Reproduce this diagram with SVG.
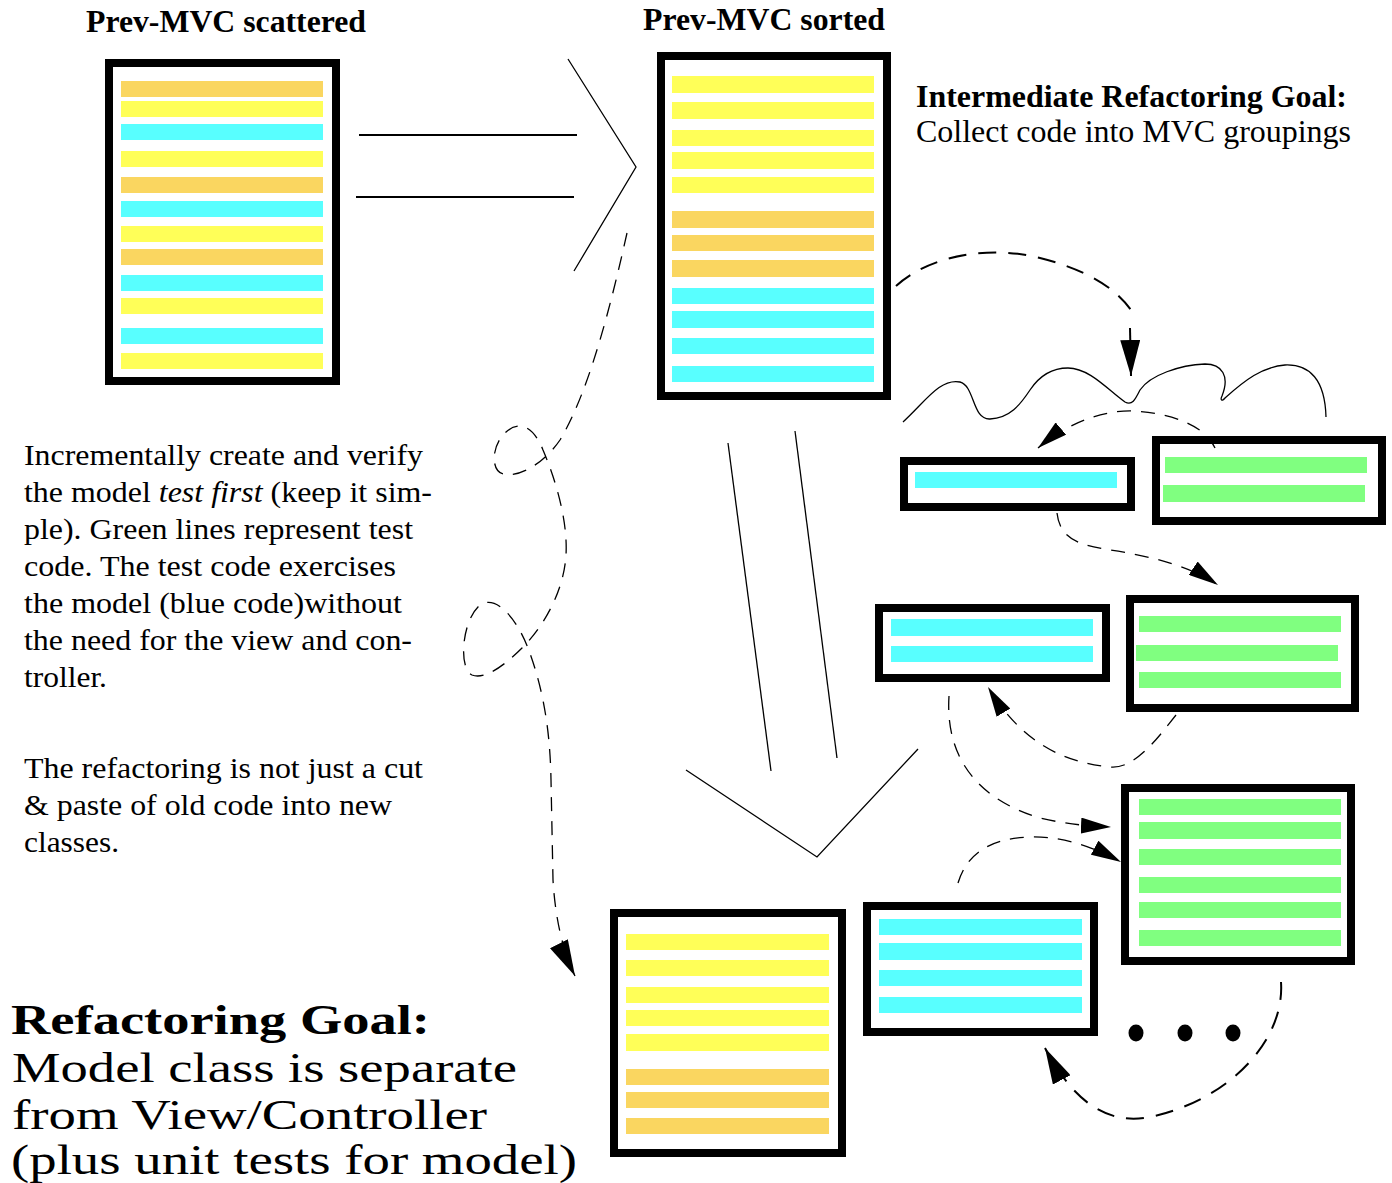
<svg xmlns="http://www.w3.org/2000/svg" width="1392" height="1183" viewBox="0 0 1392 1183">
<style>
.box{fill:#fff;stroke:#000;stroke-width:8}
.y{fill:#FFFF58}.o{fill:#FAD660}.c{fill:#58FFFF}.g{fill:#80FF80}
.t{font-family:'Liberation Serif',Tinos,'Times New Roman',Times,'Nimbus Roman','FreeSerif',serif;fill:#000}
.b{font-weight:bold}
.thin{fill:none;stroke:#000;stroke-width:1.3}
.dash{fill:none;stroke:#000;stroke-width:2;stroke-dasharray:18 12}
.dash2{fill:none;stroke:#000;stroke-width:1.3;stroke-dasharray:14 10}
</style>
<defs>
<marker id="ah" viewBox="0 0 30 16" markerWidth="30" markerHeight="16" refX="30" refY="8" orient="auto" markerUnits="userSpaceOnUse">
<path d="M0,0 L30,8 L0,16 z" fill="#000"/>
</marker>
<marker id="ahl" viewBox="0 0 36 20" markerWidth="36" markerHeight="20" refX="36" refY="10" orient="auto" markerUnits="userSpaceOnUse">
<path d="M0,0 L36,10 L0,20 z" fill="#000"/>
</marker>
</defs>
<rect width="1392" height="1183" fill="#fff"/>

<g id="labels">
<text class="t b" x="86" y="32" font-size="31" textLength="280" lengthAdjust="spacingAndGlyphs">Prev-MVC scattered</text>
<text class="t b" x="643" y="30" font-size="31" textLength="242" lengthAdjust="spacingAndGlyphs">Prev-MVC sorted</text>
<text class="t b" x="916" y="107" font-size="31" textLength="431" lengthAdjust="spacingAndGlyphs">Intermediate Refactoring Goal:</text>
<text class="t" x="916" y="142" font-size="31" textLength="435" lengthAdjust="spacingAndGlyphs">Collect code into MVC groupings</text>
</g>

<g id="para1" class="t" font-size="30">
<text x="24" y="465" textLength="399" lengthAdjust="spacingAndGlyphs">Incrementally create and verify</text>
<text x="24" y="502" textLength="408" lengthAdjust="spacingAndGlyphs">the model <tspan font-style="italic">test first</tspan> (keep it sim-</text>
<text x="24" y="539" textLength="389" lengthAdjust="spacingAndGlyphs">ple). Green lines represent test</text>
<text x="24" y="576" textLength="372" lengthAdjust="spacingAndGlyphs">code. The test code exercises</text>
<text x="24" y="613" textLength="378" lengthAdjust="spacingAndGlyphs">the model (blue code)without</text>
<text x="24" y="650" textLength="388" lengthAdjust="spacingAndGlyphs">the need for the view and con-</text>
<text x="24" y="687" textLength="83" lengthAdjust="spacingAndGlyphs">troller.</text>
</g>

<g id="para2" class="t" font-size="30">
<text x="24" y="778" textLength="399" lengthAdjust="spacingAndGlyphs">The refactoring is not just a cut</text>
<text x="24" y="815" textLength="368" lengthAdjust="spacingAndGlyphs">&amp; paste of old code into new</text>
<text x="24" y="852" textLength="95" lengthAdjust="spacingAndGlyphs">classes.</text>
</g>

<g id="goal" class="t" font-size="42">
<text class="b" x="11" y="1034" textLength="419" lengthAdjust="spacingAndGlyphs">Refactoring Goal:</text>
<text x="12" y="1082" textLength="505" lengthAdjust="spacingAndGlyphs">Model class is separate</text>
<text x="12" y="1129" textLength="475" lengthAdjust="spacingAndGlyphs">from View/Controller</text>
<text x="11" y="1174" textLength="566" lengthAdjust="spacingAndGlyphs">(plus unit tests for model)</text>
</g>

<g id="scattered">
<rect class="box" x="109" y="63" width="227" height="318"/>
<rect class="o" x="121" y="81" width="202" height="16"/>
<rect class="y" x="121" y="101" width="202" height="16"/>
<rect class="c" x="121" y="124" width="202" height="16"/>
<rect class="y" x="121" y="151" width="202" height="16"/>
<rect class="o" x="121" y="177" width="202" height="16"/>
<rect class="c" x="121" y="201" width="202" height="16"/>
<rect class="y" x="121" y="226" width="202" height="16"/>
<rect class="o" x="121" y="249" width="202" height="16"/>
<rect class="c" x="121" y="275" width="202" height="16"/>
<rect class="y" x="121" y="298" width="202" height="16"/>
<rect class="c" x="121" y="328" width="202" height="16"/>
<rect class="y" x="121" y="353" width="202" height="16"/>
</g>

<g id="sorted">
<rect class="box" x="661" y="56" width="226" height="340"/>
<rect class="y" x="672" y="76" width="202" height="17"/>
<rect class="y" x="672" y="102" width="202" height="17"/>
<rect class="y" x="672" y="130" width="202" height="16"/>
<rect class="y" x="672" y="152" width="202" height="17"/>
<rect class="y" x="672" y="177" width="202" height="16"/>
<rect class="o" x="672" y="211" width="202" height="17"/>
<rect class="o" x="672" y="235" width="202" height="16"/>
<rect class="o" x="672" y="260" width="202" height="17"/>
<rect class="c" x="672" y="288" width="202" height="16"/>
<rect class="c" x="672" y="311" width="202" height="17"/>
<rect class="c" x="672" y="338" width="202" height="16"/>
<rect class="c" x="672" y="366" width="202" height="16"/>
</g>

<g id="modelA">
<rect class="box" x="904" y="461" width="227" height="46"/>
<rect class="c" x="915" y="472" width="202" height="16"/>
</g>
<g id="testB">
<rect class="box" x="1156" y="440" width="226" height="81"/>
<rect class="g" x="1165" y="457" width="202" height="16"/>
<rect class="g" x="1163" y="485" width="202" height="17"/>
</g>
<g id="modelD">
<rect class="box" x="879" y="608" width="227" height="70"/>
<rect class="c" x="891" y="619" width="202" height="17"/>
<rect class="c" x="891" y="646" width="202" height="16"/>
</g>
<g id="testC">
<rect class="box" x="1130" y="599" width="225" height="109"/>
<rect class="g" x="1139" y="616" width="202" height="16"/>
<rect class="g" x="1136" y="645" width="202" height="16"/>
<rect class="g" x="1139" y="672" width="202" height="16"/>
</g>
<g id="testE">
<rect class="box" x="1125" y="788" width="226" height="173"/>
<rect class="g" x="1139" y="799" width="202" height="16"/>
<rect class="g" x="1139" y="822" width="202" height="17"/>
<rect class="g" x="1139" y="849" width="202" height="16"/>
<rect class="g" x="1139" y="877" width="202" height="16"/>
<rect class="g" x="1139" y="902" width="202" height="16"/>
<rect class="g" x="1139" y="930" width="202" height="16"/>
</g>
<g id="modelG">
<rect class="box" x="867" y="906" width="227" height="126"/>
<rect class="c" x="879" y="919" width="203" height="16"/>
<rect class="c" x="879" y="943" width="203" height="17"/>
<rect class="c" x="879" y="970" width="203" height="16"/>
<rect class="c" x="879" y="997" width="203" height="16"/>
</g>
<g id="final">
<rect class="box" x="614" y="913" width="228" height="240"/>
<rect class="y" x="626" y="934" width="203" height="16"/>
<rect class="y" x="626" y="960" width="203" height="16"/>
<rect class="y" x="626" y="987" width="203" height="16"/>
<rect class="y" x="626" y="1010" width="203" height="16"/>
<rect class="y" x="626" y="1034" width="203" height="17"/>
<rect class="o" x="626" y="1069" width="203" height="16"/>
<rect class="o" x="626" y="1092" width="203" height="16"/>
<rect class="o" x="626" y="1118" width="203" height="16"/>
</g>
<g id="ellipsis">
<ellipse cx="1136" cy="1033" rx="7.5" ry="8.5"/>
<ellipse cx="1185" cy="1033" rx="7.5" ry="8.5"/>
<ellipse cx="1233" cy="1033" rx="7.5" ry="8.5"/>
</g>
<g id="cloud">
<path class="thin" d="M903,422 C925,402 940,378 960,382 C975,386 972,420 990,419 C1010,418 1020,405 1030,390 C1040,375 1052,368 1068,368 C1090,368 1110,392 1125,402 C1132,406 1135,400 1140,390 C1150,375 1180,365 1205,364 C1222,364 1230,376 1222,396 C1220,400 1222,402 1225,398 C1245,380 1262,367 1285,365 C1310,364 1325,380 1326,417"/>
</g>

<g id="connectors">
<line x1="359" y1="135" x2="577" y2="135" stroke="#000" stroke-width="1.8"/>
<line x1="356" y1="197" x2="574" y2="197" stroke="#000" stroke-width="1.8"/>
<polyline class="thin" points="568,59 636,167 574,271"/>
<line x1="728" y1="443" x2="771" y2="771" stroke="#000" stroke-width="1.3"/>
<line x1="795" y1="431" x2="837" y2="758" stroke="#000" stroke-width="1.3"/>
<polyline class="thin" points="686,770 817,857 918,749"/>
<path class="dash2" marker-end="url(#ahl)" d="M627,233 C612,300 590,390 560,440 C545,462 520,478 503,474 C490,470 492,445 505,433 C518,420 533,425 543,450 C555,478 568,520 566,555 C564,590 545,625 522,648 C505,665 485,680 472,675 C458,668 462,620 480,605 C495,595 515,615 528,648 C540,680 550,720 551,780 L553,880 C555,915 562,950 575,976"/>
<path class="dash" d="M896,286 C930,255 990,245 1040,258 C1080,268 1115,285 1133,313"/>
<line x1="1130" y1="328" x2="1131" y2="376" stroke="#000" stroke-width="2" marker-end="url(#ahl)"/>
<path class="dash2" marker-end="url(#ah)" d="M1215,448 C1205,425 1170,413 1133,411 C1100,410 1065,425 1038,448"/>
<path class="dash2" marker-end="url(#ah)" d="M1057,513 C1060,540 1080,545 1110,550 C1150,556 1190,566 1218,585"/>
<path class="dash2" marker-end="url(#ah)" d="M1176,715 C1160,735 1135,770 1110,767 C1060,762 1020,740 988,687"/>
<path class="dash2" marker-end="url(#ah)" d="M949,696 C945,760 980,800 1040,818 C1070,825 1090,826 1111,827"/>
<path class="dash2" marker-end="url(#ah)" d="M958,883 C968,850 995,838 1030,837 C1065,836 1095,848 1121,862"/>
<path class="dash" marker-end="url(#ahl)" d="M1281,982 C1285,1040 1230,1100 1150,1117 C1110,1125 1075,1105 1045,1048"/>
</g>
</svg>
